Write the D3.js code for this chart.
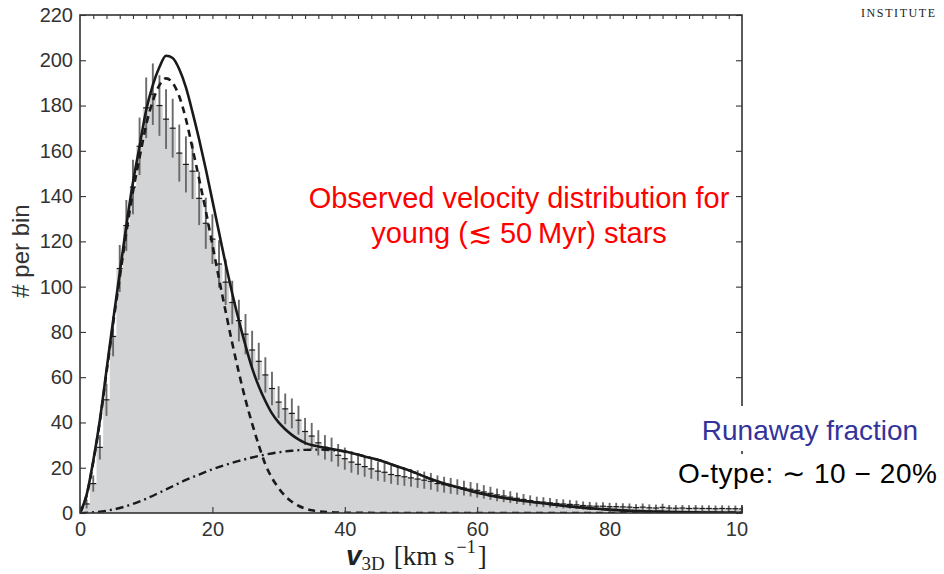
<!DOCTYPE html>
<html>
<head>
<meta charset="utf-8">
<script src="https://cdn.jsdelivr.net/npm/d3@7"></script>
<style>
  html, body { margin: 0; padding: 0; background: #fff; }
  svg { display: block; }
</style>
</head>
<body>
<svg id="chart" width="944" height="574"></svg>
<script>
// Histogram of 3D space velocities (1 km/s bins, centred on integer values)
const binCenters = d3.range(1, 101);
const counts = [
  4, 13, 29, 50, 78, 108, 127, 144, 162, 179,
  185, 180, 174, 170, 159, 154, 151, 139, 128, 121,
  110, 102, 93, 85, 79, 72, 67, 61, 55, 49,
  46, 44, 41, 36, 34, 31, 29, 28, 25.5, 24,
  22.5, 21.5, 20.5, 19.5, 18.5, 18, 17, 16.5, 16, 15.5,
  15, 14.5, 14, 13, 12.5, 12, 11.5, 11, 10.5, 10,
  9.3, 8.7, 8, 7.5, 7, 6.5, 6, 5.5, 5, 4.8,
  4.5, 4.2, 4, 3.8, 3.6, 3.3, 3.1, 3, 3, 2.8,
  2.8, 2.7, 2.6, 2.4, 2.6, 2.3, 2.2, 2.5, 2.2, 2.1,
  2.2, 2, 2.1, 2, 2, 1.9, 2, 1.9, 1.9, 1.8
];
// Poisson uncertainty of each bin
const errors = [
  2, 3.6, 5.4, 7.1, 8.8, 10.4, 11.3, 12, 12.7, 13.4,
  13.6, 13.4, 13.2, 13, 12.6, 12.4, 12.3, 11.8, 11.3, 11,
  10.5, 10.1, 9.6, 9.2, 8.9, 8.5, 8.2, 7.8, 7.4, 7,
  6.8, 6.6, 6.4, 6, 5.8, 5.6, 5.4, 5.3, 5, 4.9,
  4.7, 4.6, 4.5, 4.4, 4.3, 4.2, 4.1, 4.1, 4, 3.9,
  3.9, 3.8, 3.7, 3.6, 3.5, 3.5, 3.4, 3.3, 3.2, 3.2,
  3, 2.9, 2.8, 2.7, 2.6, 2.5, 2.4, 2.3, 2.2, 2.2,
  2.1, 2, 2, 1.9, 1.9, 1.8, 1.8, 1.7, 1.7, 1.7,
  1.7, 1.6, 1.6, 1.5, 1.6, 1.5, 1.5, 1.6, 1.5, 1.4,
  1.5, 1.4, 1.4, 1.4, 1.4, 1.4, 1.4, 1.4, 1.4, 1.3
];

// Fitted model: total (solid), low-velocity component (dashed), high-velocity component (dash-dot)
const totalV = [0, 1, 2, 3, 4, 5, 6, 7, 8, 9, 10, 11, 12, 13, 14, 15, 16, 17, 18, 19, 20,
  21, 22, 23, 24, 25, 26, 27, 28, 29, 30, 31, 32, 33, 34, 35, 36, 38, 40, 43, 45, 48, 50,
  53, 55, 58, 60, 63, 65, 68, 70, 73, 75, 78, 80, 83, 85, 90, 95, 100];
const totalN = [0, 8, 23, 41, 63, 85, 106, 127, 146, 162, 178, 189, 197, 202, 201, 196, 188, 177, 165, 152, 138,
  124, 110, 97, 85, 74, 64, 56, 49.5, 44, 40, 37, 34.5, 32.5, 31, 30, 29.4, 28.3, 27.2, 25, 23.5, 20.5, 18.5,
  15, 13, 10.6, 9, 7.2, 6.2, 5, 4.3, 3.2, 2.6, 1.9, 1.5, 1, 0.8, 0.4, 0.2, 0.1];

const lowV = [0, 1, 2, 3, 4, 5, 6, 7, 8, 9, 10, 11, 12, 13, 14, 15, 16, 17, 18, 19, 20,
  21, 22, 23, 24, 25, 26, 27, 28, 29, 30, 31, 32, 33, 34, 35, 36, 38, 40, 50, 60, 70, 80, 90, 100];
const lowN = [0, 7.8, 22.5, 40.5, 62, 83.5, 104, 124, 142, 157, 171.5, 182, 189, 192, 190, 184, 174, 161, 147.5, 133.5, 118.5,
  103.5, 89, 75, 62, 50, 39.5, 30, 21.5, 15.5, 11, 7.5, 5, 3.2, 2, 1.2, 0.7, 0.3, 0.1, 0, 0, 0, 0, 0, 0];

const highV = [0, 2, 4, 6, 8, 10, 12, 14, 16, 18, 20, 22, 24, 26, 28, 30, 32, 34, 36, 38, 40,
  43, 45, 48, 50, 53, 55, 58, 60, 63, 65, 68, 70, 73, 75, 78, 80, 83, 85, 90, 95, 100];
const highN = [0, 0.3, 1, 2.2, 4, 6.3, 9, 11.8, 14.6, 17, 19.3, 21.3, 23, 24.5, 25.8, 26.8, 27.5, 27.9, 28, 27.8, 27.2,
  25, 23.5, 20.5, 18.5, 15, 13, 10.6, 9, 7.2, 6.2, 5, 4.3, 3.2, 2.6, 1.9, 1.5, 1, 0.8, 0.4, 0.2, 0.1];

const xTicks = [0, 20, 40, 60, 80, 100];
const xMinorTicks = d3.range(2, 100, 2);
const yTicks = [0, 20, 40, 60, 80, 100, 120, 140, 160, 180, 200, 220];

const svg = d3.select("#chart");
const W = 944, H = 574;
const plot = { left: 80, right: 742, top: 15, bottom: 513 };

const x = d3.scaleLinear().domain([0, 100]).range([plot.left, plot.right]);
const y = d3.scaleLinear().domain([0, 220]).range([plot.bottom, plot.top]);

const defs = svg.append("defs");
defs.append("clipPath").attr("id", "plotClip")
  .append("rect")
  .attr("x", plot.left).attr("y", plot.top)
  .attr("width", plot.right - plot.left).attr("height", plot.bottom - plot.top);
// the figure panel is trimmed just past the right frame
defs.append("clipPath").attr("id", "panelClip")
  .append("rect").attr("x", 0).attr("y", 0).attr("width", 748).attr("height", H);

const panel = svg.append("g").attr("clip-path", "url(#panelClip)");
const inner = panel.append("g").attr("clip-path", "url(#plotClip)");

const bins = binCenters.map((c, i) => ({ c, n: counts[i], e: errors[i] }));

// grey histogram drawn as one stepped outline
const steps = [];
bins.forEach(d => { steps.push([d.c - 0.5, d.n]); steps.push([d.c + 0.5, d.n]); });
const histArea = d3.area().x(d => x(d[0])).y0(y(0)).y1(d => y(d[1]));
inner.append("path")
  .attr("d", histArea([[steps[0][0], 0], ...steps, [steps[steps.length - 1][0], 0]]))
  .attr("fill", "#d3d4d6");

// error bars
const eb = inner.append("g");
eb.selectAll("line.err").data(bins).join("line")
  .attr("class", "err")
  .attr("x1", d => x(d.c)).attr("x2", d => x(d.c))
  .attr("y1", d => y(d.n + d.e)).attr("y2", d => y(Math.max(0, d.n - d.e)))
  .attr("stroke", "#6a6a6a").attr("stroke-width", 1.9);
eb.selectAll("line.cap").data(bins).join("line")
  .attr("class", "cap")
  .attr("x1", d => x(d.c) - 3).attr("x2", d => x(d.c) + 3)
  .attr("y1", d => y(d.n)).attr("y2", d => y(d.n))
  .attr("stroke", "#1a1a1a").attr("stroke-width", 1.2);

// model curves
const line = d3.line().x(d => x(d[0])).y(d => y(d[1])).curve(d3.curveMonotoneX);
inner.append("path")
  .attr("d", line(highV.map((v, i) => [v, highN[i]])))
  .attr("fill", "none").attr("stroke", "#1a1a1a").attr("stroke-width", 2.4)
  .attr("stroke-dasharray", "8,4,2,4");
inner.append("path")
  .attr("d", line(lowV.map((v, i) => [v, lowN[i]])))
  .attr("fill", "none").attr("stroke", "#1a1a1a").attr("stroke-width", 2.6)
  .attr("stroke-dasharray", "7,5");
inner.append("path")
  .attr("d", line(totalV.map((v, i) => [v, totalN[i]])))
  .attr("fill", "none").attr("stroke", "#1a1a1a").attr("stroke-width", 2.6);

// frame and inward ticks
const axisColor = "#333";
panel.append("rect")
  .attr("x", plot.left).attr("y", plot.top)
  .attr("width", plot.right - plot.left).attr("height", plot.bottom - plot.top)
  .attr("fill", "none").attr("stroke", axisColor).attr("stroke-width", 1.6);

const tickLen = 6;
const axL = d3.axisLeft(y).tickValues(yTicks).tickSizeInner(-tickLen).tickSizeOuter(0).tickPadding(7);
const axR = d3.axisRight(y).tickValues(yTicks).tickSizeInner(-tickLen).tickSizeOuter(0).tickFormat("");
const axB = d3.axisBottom(x).tickValues(xTicks).tickSizeInner(-tickLen).tickSizeOuter(0).tickPadding(9);
const axT = d3.axisTop(x).tickValues(xMinorTicks).tickSizeInner(-4).tickSizeOuter(0).tickFormat("");

function styleAxis(g) {
  g.select(".domain").remove();
  g.selectAll(".tick line").attr("stroke", axisColor).attr("stroke-width", 1.1);
  g.selectAll(".tick text")
    .attr("fill", "#333")
    .attr("font-family", "'Liberation Sans', Arial, Helvetica, sans-serif")
    .attr("font-size", 20);
}
panel.append("g").attr("transform", `translate(${plot.left},0)`).call(axL).call(styleAxis);
panel.append("g").attr("transform", `translate(${plot.right},0)`).call(axR).call(styleAxis);
panel.append("g").attr("transform", `translate(0,${plot.bottom})`).call(axB).call(styleAxis);
panel.append("g").attr("transform", `translate(0,${plot.top})`).call(axT).call(styleAxis);

// axis titles
svg.append("text")
  .attr("transform", `translate(29,251) rotate(-90)`)
  .attr("text-anchor", "middle")
  .attr("font-family", "'Liberation Sans', Arial, Helvetica, sans-serif")
  .attr("font-size", 24).attr("fill", "#333")
  .text("# per bin");

const xt = svg.append("text").attr("x", 346).attr("y", 565).attr("fill", "#222");
xt.append("tspan").attr("font-family", "'Liberation Sans', Arial, sans-serif")
  .attr("font-style", "italic").attr("font-weight", "bold").attr("font-size", 28).text("v");
xt.append("tspan").attr("font-family", "'Liberation Serif', 'Times New Roman', serif")
  .attr("font-size", 19).attr("dy", 5).text("3D");
xt.append("tspan").attr("font-family", "'Liberation Serif', 'Times New Roman', serif")
  .attr("font-size", 27).attr("dy", -5).attr("dx", 9).text("[km s");
xt.append("tspan").attr("font-family", "'Liberation Serif', 'Times New Roman', serif")
  .attr("font-size", 18).attr("dy", -12).attr("dx", 2).text("\u22121");
xt.append("tspan").attr("font-family", "'Liberation Serif', 'Times New Roman', serif")
  .attr("font-size", 27).attr("dy", 12).attr("dx", 2).text("]");

// red annotation
const red = svg.append("text")
  .attr("text-anchor", "middle")
  .attr("font-family", "'Liberation Sans', Arial, Helvetica, sans-serif")
  .attr("font-size", 29).attr("fill", "#ff0000");
red.append("tspan").attr("x", 519).attr("y", 208).text("Observed velocity distribution for");
red.append("tspan").attr("x", 519).attr("y", 243).text("young (\u2272 50\u2009Myr) stars");

// runaway fraction boxes (white backgrounds overlap the frame)
svg.append("rect").attr("x", 690).attr("y", 406).attr("width", 254).attr("height", 45).attr("fill", "#fff");
svg.append("rect").attr("x", 668).attr("y", 454).attr("width", 276).attr("height", 51).attr("fill", "#fff");
svg.append("text")
  .attr("x", 810).attr("y", 440).attr("text-anchor", "middle")
  .attr("font-family", "'Liberation Sans', Arial, Helvetica, sans-serif")
  .attr("font-size", 28).attr("fill", "#33339a")
  .text("Runaway fraction");
svg.append("text")
  .attr("x", 678).attr("y", 483).attr("textLength", 259)
  .attr("font-family", "'Liberation Sans', Arial, Helvetica, sans-serif")
  .attr("font-size", 28).attr("fill", "#000")
  .text("O-type: \u223C 10 \u2212 20%");

// header text at the top edge
svg.append("text")
  .attr("x", 861).attr("y", 17)
  .attr("font-family", "'Liberation Serif', 'Times New Roman', serif")
  .attr("font-size", 12).attr("letter-spacing", 1.6).attr("fill", "#222")
  .text("INSTITUTE");
</script>
</body>
</html>
